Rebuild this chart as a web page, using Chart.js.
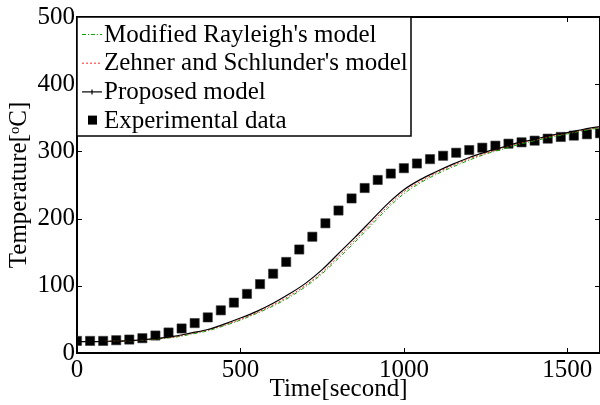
<!DOCTYPE html>
<html>
<head>
<meta charset="utf-8">
<script src="https://cdn.jsdelivr.net/npm/chart.js@4.4.1/dist/chart.umd.min.js"></script>
<style>
  html, body { margin: 0; padding: 0; background: #fff; }
</style>
</head>
<body>
<canvas id="myChart" width="600" height="405"></canvas>
<script>
//------------------------------data-----------------

const expTime = [0,40,80,120,160,200,240,280,320,360,400,440,480,520,560,600,640,680,720,760,
                 800,840,880,920,960,1000,1040,1080,1120,1160,1200,1240,1280,1320,1360,1400,1440,1480,1520,1560,1600];
const expTemp = [18,18,18,19,20,22,26,30.5,36.5,44.5,53,63.5,75,88,102.5,118,135.5,154,173,193,
                 212,230,245.5,257.5,267,275,282,288.5,293.5,298,302,305.5,308.5,311.5,313.5,316,319,321.5,323.5,325.5,327];

const modelTime = [0,50,100,150,200,250,300,350,400,450,500,550,600,650,700,750,800,850,900,950,
                   1000,1050,1100,1150,1200,1250,1300,1350,1400,1450,1500,1550,1600];
const rayleighTemp = [17,17,17.5,18,19,21,23.5,28,33,40.5,49,59,70,83,99,118,141,165,190,215,
                      237,253,266,277,287,296,303,310,316,321,326,331,335];
const zehnerTemp = [17,17,17.5,18,19,21.5,24,29,34,41.5,50,60,71.5,85,101,120,144,168,193,218,
                    240,255,268,279,289,297,305,312,317,323,327,332,336];
const proposedTemp = [17,17,17.5,18,19.5,22,25,30,35,43,52,62,74,88,104,124,148,172,197,222,
                      243,258,270,281,291,299,306,313,318,324,328,333,337];

const xTicks = [0,500,1000,1500];
const yTicks = [0,100,200,300,400,500];

const FONT = 'Liberation Serif, Times New Roman, serif';

function pairs(xs, ys) {
    return xs.map((x, i) => ({x: x, y: ys[i]}));
}

//------------------------------box + inward ticks, legend-----------------

const frame = {
    id: 'frame',
    afterDatasetsDraw(chart) {
        const ctx = chart.ctx;
        const a = chart.chartArea;
        const sx = chart.scales.x, sy = chart.scales.y;
        ctx.save();
        ctx.strokeStyle = '#000';
        ctx.lineWidth = 2;
        ctx.beginPath();
        ctx.moveTo(a.left, a.top);
        ctx.lineTo(a.right, a.top);
        ctx.lineTo(a.right, a.bottom);
        ctx.stroke();
        ctx.lineWidth = 1;
        ctx.beginPath();
        xTicks.forEach(v => {
            const px = Math.round(sx.getPixelForValue(v)) + 0.5;
            ctx.moveTo(px, a.bottom); ctx.lineTo(px, a.bottom - 5);
            ctx.moveTo(px, a.top); ctx.lineTo(px, a.top + 5);
        });
        yTicks.forEach(v => {
            const py = Math.round(sy.getPixelForValue(v)) + 0.5;
            ctx.moveTo(a.left, py); ctx.lineTo(a.left + 5, py);
            ctx.moveTo(a.right, py); ctx.lineTo(a.right - 5, py);
        });
        ctx.stroke();

        // legend, top left inside the axes
        const sets = chart.data.datasets;
        const bx = a.left, by = a.top, bw = 334, bh = 119;
        ctx.fillStyle = '#fff';
        ctx.fillRect(bx, by, bw, bh);
        ctx.lineWidth = 1.5;
        ctx.strokeRect(bx, by, bw, bh);
        ctx.font = '25px ' + FONT;
        ctx.textBaseline = 'middle';
        ctx.textAlign = 'left';
        sets.forEach((ds, i) => {
            const y = by + 17 + i * 28.7;
            if (ds.showLine === false) {
                ctx.fillStyle = '#000';
                ctx.fillRect(bx + 11, y - 4.5, 9, 9);
            } else {
                ctx.strokeStyle = ds.borderColor;
                ctx.lineWidth = ds.borderWidth;
                ctx.setLineDash(ds.borderDash || []);
                ctx.beginPath();
                ctx.moveTo(bx + 5, y + 0.5);
                ctx.lineTo(bx + 25, y + 0.5);
                ctx.stroke();
                ctx.setLineDash([]);
                if (i === 2) {
                    ctx.beginPath();
                    ctx.moveTo(bx + 15, y - 2);
                    ctx.lineTo(bx + 15, y + 3);
                    ctx.stroke();
                }
            }
            ctx.fillStyle = '#000';
            ctx.fillText(ds.label, bx + 27, y + 1);
        });
        ctx.restore();
    }
};

//------------------------------chart-----------------

const dataTEMP = {
    datasets: [{
        label: "Modified Rayleigh's model",
        data: pairs(modelTime, rayleighTemp),
        borderColor: 'rgb(0,170,0)',
        borderWidth: 1,
        borderDash: [4, 2, 1, 2],
        pointRadius: 0,
        cubicInterpolationMode: 'monotone',
        order: 3
    },
    {   label: "Zehner and Schlunder's model",
        data: pairs(modelTime, zehnerTemp),
        borderColor: 'rgb(255,40,40)',
        borderWidth: 1,
        borderDash: [2, 2],
        pointRadius: 0,
        cubicInterpolationMode: 'monotone',
        order: 2
    },
    {   label: "Proposed model",
        data: pairs(modelTime, proposedTemp),
        borderColor: 'rgb(0,0,0)',
        borderWidth: 1.2,
        pointRadius: 0,
        cubicInterpolationMode: 'monotone',
        order: 1
    },
    {   label: "Experimental data",
        data: pairs(expTime, expTemp),
        showLine: false,
        pointStyle: 'rect',
        pointRadius: 6.5,
        pointBorderWidth: 0.6,
        pointBackgroundColor: '#000',
        pointBorderColor: '#333',
        order: 4
    }]
};

const configTEMP = {
    type: 'line',
    data: dataTEMP,
    options: {
        responsive: false,
        animation: false,
        devicePixelRatio: 1,
        layout: { autoPadding: false, padding: { top: 15, right: 0, left: 0, bottom: 0 } },
        plugins: {
            legend: { display: false },
            tooltip: { enabled: false }
        },
        scales: {
            x: {
                type: 'linear',
                min: 0,
                max: 1600,
                grid: { display: false, drawTicks: false },
                border: { display: true, color: '#000', width: 2 },
                ticks: {
                    color: '#000',
                    padding: 2,
                    maxRotation: 0,
                    font: { family: FONT, size: 25 },
                    callback: v => String(v)
                },
                afterBuildTicks: s => { s.ticks = xTicks.map(v => ({value: v})); },
                afterFit: s => { s.height = 52; s.paddingLeft = 0; s.paddingRight = 0; },
                title: {
                    display: true,
                    text: 'Time[second]',
                    color: '#000',
                    font: { family: FONT, size: 25 },
                    padding: { top: 0, bottom: 1 }
                }
            },
            y: {
                min: 0,
                max: 500,
                grid: { display: false, drawTicks: false },
                border: { display: true, color: '#000', width: 2 },
                ticks: {
                    color: '#000',
                    padding: 2,
                    font: { family: FONT, size: 25 },
                    callback: v => String(v)
                },
                afterBuildTicks: s => { s.ticks = yTicks.map(v => ({value: v})); },
                afterFit: s => { s.width = 77; },
                title: {
                    display: true,
                    text: 'Temperature[ᵒC]',
                    color: '#000',
                    font: { family: FONT, size: 25 },
                    padding: { top: 4, bottom: 0 }
                }
            }
        }
    },
    plugins: [frame]
};

var chartTEMP = new Chart(
    document.getElementById('myChart'),
    configTEMP
);
</script>
</body>
</html>
